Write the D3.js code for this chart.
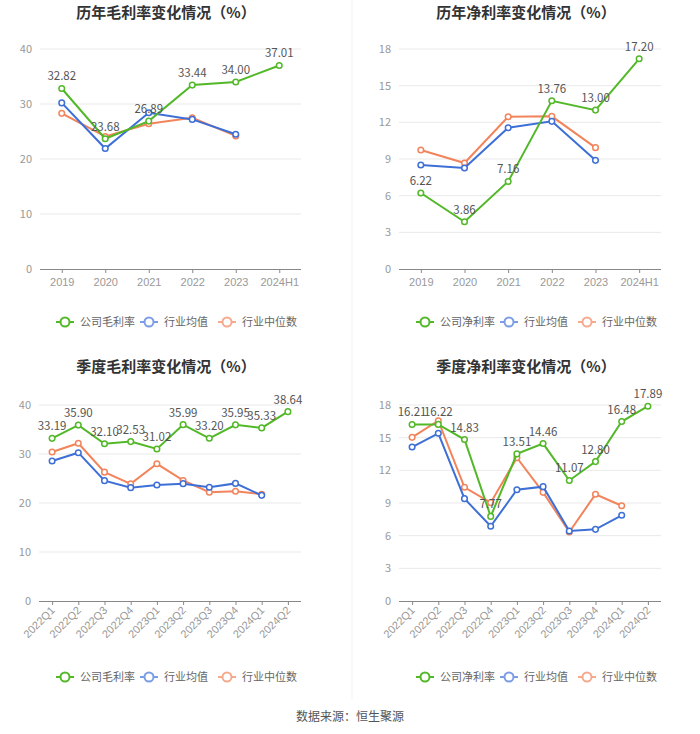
<!DOCTYPE html>
<html><head><meta charset="utf-8">
<script src="https://cdn.jsdelivr.net/npm/d3@7"></script>
<style>body{margin:0;background:#fff;}svg{display:block;font-family:"Noto Sans CJK SC","Noto Sans",sans-serif;}</style>
</head><body>
<script>
const yearCats = ["2019","2020","2021","2022","2023","2024H1"];
const quarterCats = ["2022Q1","2022Q2","2022Q3","2022Q4","2023Q1","2023Q2","2023Q3","2023Q4","2024Q1","2024Q2"];

const annualGrossCompany = [32.82,23.68,26.89,33.44,34.00,37.01];
const annualGrossAvg = [30.2,21.9,28.4,27.2,24.5];
const annualGrossMedian = [28.3,24.1,26.4,27.5,24.2];

const annualNetCompany = [6.22,3.86,7.16,13.76,13.00,17.20];
const annualNetAvg = [8.51,8.26,11.56,12.08,8.89];
const annualNetMedian = [9.74,8.67,12.46,12.49,9.93];

const qGrossCompany = [33.19,35.90,32.10,32.53,31.02,35.99,33.20,35.95,35.33,38.64];
const qGrossAvg = [28.57,30.27,24.56,23.13,23.67,23.95,23.2,24.0,21.56];
const qGrossMedian = [30.4,32.2,26.3,23.9,28.0,24.6,22.2,22.4,21.8];

const qNetCompany = [16.21,16.22,14.83,7.77,13.51,14.46,11.07,12.80,16.48,17.89];
const qNetAvg = [14.14,15.4,9.4,6.86,10.22,10.5,6.43,6.58,7.87];
const qNetMedian = [15.03,16.56,10.44,9.03,13.16,9.98,6.34,9.8,8.75];

const grossTicks = [0,10,20,30,40];
const netTicks = [0,3,6,9,12,15,18];

const GREEN="#52b828", BLUE="#3d6fd6", ORANGE="#f2845c";

const W=700,H=734;
const svg=d3.select("body").append("svg").attr("width",W).attr("height",H);

svg.append("line").attr("x1",352).attr("x2",352).attr("y1",0).attr("y2",700).attr("stroke","#f3f3f3").attr("stroke-width",1);

function panel(o){
  const g=svg.append("g");
  g.append("text").attr("x",o.titleX).attr("y",o.titleY).attr("text-anchor","middle")
    .attr("font-size",15).attr("font-weight","bold").attr("fill","#333").text(o.title);
  const x=d3.scalePoint().domain(o.cats).range([o.x0,o.x1]).padding(0.5);
  const y=d3.scaleLinear().domain([0,o.ticks[o.ticks.length-1]]).range([o.yB,o.yT]);
  g.selectAll(".grid").data(o.ticks.filter(t=>t>0)).join("line")
    .attr("x1",o.x0).attr("x2",o.x1).attr("y1",d=>y(d)).attr("y2",d=>y(d))
    .attr("stroke","#e9e9e9").attr("stroke-width",1);
  g.selectAll(".yl").data(o.ticks).join("text")
    .attr("x",o.x0-8).attr("y",d=>y(d)).attr("dy","0.35em").attr("text-anchor","end")
    .attr("font-size",11).attr("fill","#999").text(d=>d);
  const xa=d3.axisBottom(x).tickSize(4).tickSizeOuter(0);
  const axg=g.append("g").attr("transform",`translate(0,${o.yB})`).call(xa);
  axg.select(".domain").attr("stroke","#888").attr("d",`M${o.x0},0.5H${o.x1}`);
  axg.selectAll(".tick line").attr("stroke","#888");
  axg.selectAll(".tick text").attr("fill","#999").attr("font-size",11).attr("font-family","inherit");
  if(o.rotate){
    axg.selectAll(".tick text").attr("text-anchor","end").attr("dy",null).attr("y",0)
      .attr("transform","translate(3,10) rotate(-45)");
  } else {
    axg.selectAll(".tick text").attr("y",9);
  }
  const line=d3.line().x((d,i)=>x(o.cats[i])).y(d=>y(d));
  const series=[{v:o.med,c:ORANGE},{v:o.avg,c:BLUE},{v:o.comp,c:GREEN}];
  series.forEach(s=>{
    g.append("path").datum(s.v).attr("d",line).attr("fill","none").attr("stroke",s.c).attr("stroke-width",2);
    g.selectAll(null).data(s.v).join("circle").attr("cx",(d,i)=>x(o.cats[i])).attr("cy",d=>y(d))
      .attr("r",2.8).attr("fill","#fff").attr("stroke",s.c).attr("stroke-width",1.5);
  });
  g.selectAll(".lab").data(o.comp).join("text")
    .attr("x",(d,i)=>x(o.cats[i])).attr("y",d=>y(d)-8).attr("text-anchor","middle")
    .attr("font-size",11.5).attr("fill","#555").text(d=>d.toFixed(2));
  const items=[{n:o.compName,c:GREEN,x:o.legX},{n:"行业均值",c:"#7b9de6",x:o.legX+84},{n:"行业中位数",c:"#f5aa8e",x:o.legX+162}];
  items.forEach(it=>{
    const lg=g.append("g").attr("transform",`translate(${it.x},${o.legY})`);
    lg.append("line").attr("x1",0).attr("x2",18).attr("stroke",it.c).attr("stroke-width",2);
    lg.append("circle").attr("cx",9).attr("r",4.5).attr("fill","#fff").attr("stroke",it.c).attr("stroke-width",2);
    lg.append("text").attr("x",24).attr("dy","0.35em").attr("font-size",11).attr("fill","#666").text(it.n);
  });
}

panel({title:"历年毛利率变化情况（%）",titleX:166,titleY:18,cats:yearCats,ticks:grossTicks,x0:40,x1:301,yT:49,yB:269,
  comp:annualGrossCompany,avg:annualGrossAvg,med:annualGrossMedian,compName:"公司毛利率",legX:56,legY:322});
panel({title:"历年净利率变化情况（%）",titleX:526,titleY:18,cats:yearCats,ticks:netTicks,x0:399,x1:661,yT:49,yB:269,
  comp:annualNetCompany,avg:annualNetAvg,med:annualNetMedian,compName:"公司净利率",legX:416,legY:322});
panel({title:"季度毛利率变化情况（%）",titleX:166,titleY:372,cats:quarterCats,ticks:grossTicks,x0:39,x1:301,yT:405,yB:601,rotate:true,
  comp:qGrossCompany,avg:qGrossAvg,med:qGrossMedian,compName:"公司毛利率",legX:56,legY:677});
panel({title:"季度净利率变化情况（%）",titleX:526,titleY:372,cats:quarterCats,ticks:netTicks,x0:399,x1:661,yT:405,yB:601,rotate:true,
  comp:qNetCompany,avg:qNetAvg,med:qNetMedian,compName:"公司净利率",legX:416,legY:677});

svg.append("text").attr("x",350).attr("y",721).attr("text-anchor","middle").attr("font-size",12).attr("fill","#555").text("数据来源：恒生聚源");
</script>
</body></html>
